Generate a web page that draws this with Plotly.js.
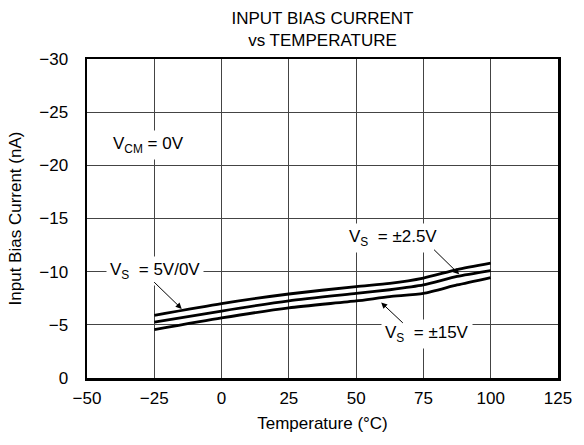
<!DOCTYPE html>
<html><head><meta charset="utf-8">
<script src="https://cdn.plot.ly/plotly-3.0.1.min.js"></script>
<style>html,body{margin:0;padding:0;background:#fff}#c{width:584px;height:445px}</style>
</head><body><div id="c"></div>
<script>
const temperature = [-25, 0, 25, 50, 62.5, 75, 87.5, 100];
const ib_5V0V   = [-5.9, -7.0, -7.9, -8.6, -8.9, -9.4, -10.2, -10.8];
const ib_pm2p5V = [-5.25, -6.3, -7.25, -7.95, -8.3, -8.75, -9.55, -10.1];
const ib_pm15V  = [-4.55, -5.65, -6.6, -7.25, -7.65, -7.95, -8.75, -9.45];
const xTicks = [-50, -25, 0, 25, 50, 75, 100, 125];
const yTicks = [-30, -25, -20, -15, -10, -5, 0];

const FONT = 'Liberation Sans, Arial, Helvetica, sans-serif';
const FS = 17;
const line = {color: '#000', width: 2.8, shape: 'spline', smoothing: 0.6};
const mk = (y, name) => ({x: temperature, y: y, mode: 'lines', line: line, name: name, hoverinfo: 'skip'});

const traces = [mk(ib_5V0V, 'VS = 5V/0V'), mk(ib_pm2p5V, 'VS = ±2.5V'), mk(ib_pm15V, 'VS = ±15V')];

const lbl = (x, y, text) => ({x: x, y: y, xref: 'x', yref: 'y', text: text, showarrow: false,
  bgcolor: '#fff', borderpad: 3, font: {family: FONT, size: FS, color: '#000'}, xanchor: 'center', yanchor: 'middle'});
const arr = (x, y, ax, ay) => ({x: x, y: y, ax: ax, ay: ay, xref: 'x', yref: 'y', axref: 'x', ayref: 'y',
  text: '', showarrow: true, arrowhead: 2, arrowsize: 1.2, arrowwidth: 1, arrowcolor: '#000', standoff: 0, startstandoff: 0});

const layout = {
  width: 584, height: 445,
  margin: {l: 87, r: 26, t: 59, b: 67},
  paper_bgcolor: '#fff', plot_bgcolor: '#fff',
  showlegend: false,
  font: {family: FONT, size: FS, color: '#000'},
  title: {text: 'INPUT BIAS CURRENT<br>vs TEMPERATURE', xref: 'paper', x: 0.5, xanchor: 'center',
          yref: 'container', y: 0.946, yanchor: 'middle',
          font: {family: FONT, size: FS, color: '#000'}},
  xaxis: {range: [-50, 125], tickvals: xTicks, ticks: '', showgrid: true, gridcolor: '#444', gridwidth: 1,
          zeroline: false, showline: true, mirror: true, linecolor: '#000', linewidth: 2.5,
          ticklabelstandoff: 3,
          tickfont: {family: FONT, size: FS}, title: {text: 'Temperature (°C)', font: {family: FONT, size: FS}, standoff: 10}},
  yaxis: {range: [0, -30], tickvals: yTicks, ticks: '', showgrid: true, gridcolor: '#444', gridwidth: 1,
          zeroline: false, showline: true, mirror: true, linecolor: '#000', linewidth: 2.5,
          ticklabelstandoff: 13,
          tickfont: {family: FONT, size: FS}, title: {text: 'Input Bias Current (nA)', font: {family: FONT, size: FS}, standoff: 14}},
  annotations: [
    lbl(-24.7, -10.1, 'V<sub>S</sub>  = 5V/0V'),
    lbl(63.8, -13.2, 'V<sub>S</sub>  = ±2.5V'),
    lbl(76.4, -4.1, 'V<sub>S</sub>  = ±15V'),
    lbl(-27.2, -21.9, 'V<sub>CM</sub> = 0V'),
    arr(-14.8, -6.5, -25.6, -9.15),
    arr(88.3, -9.75, 78.4, -12.2),
    arr(59.3, -7.1, 67.9, -5.05)
  ]
};
Plotly.newPlot('c', traces, layout, {staticPlot: true, displayModeBar: false});
</script></body></html>
